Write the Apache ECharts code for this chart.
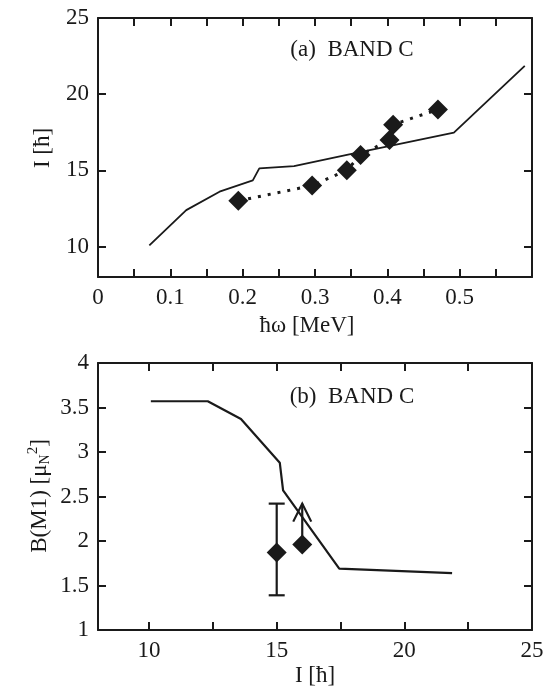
<!DOCTYPE html>
<html><head><meta charset="utf-8">
<script src="https://cdn.jsdelivr.net/npm/echarts@6/dist/echarts.min.js"></script>
<style>html,body{margin:0;padding:0;background:#fff}#c{width:559px;height:690px}</style>
</head><body><div id="c"></div>
<script>
// ---- Panel (a): I vs hbar-omega ----
const omegaTheory = [0.071, 0.122, 0.168, 0.214, 0.223, 0.271, 0.349, 0.492, 0.590];
const spinTheory  = [10.07, 12.39, 13.6, 14.34, 15.13, 15.28, 16.07, 17.48, 21.86];
const omegaExp    = [0.194, 0.296, 0.344, 0.363, 0.403, 0.408, 0.470];
const spinExp     = [13, 14, 15, 16, 17, 18, 19];
const omegaTickValues  = [0.05, 0.1, 0.15, 0.2, 0.25, 0.3, 0.35, 0.4, 0.45, 0.5, 0.55];
const omegaLabelValues = [0, 0.1, 0.2, 0.3, 0.4, 0.5];
const spinTickValuesA  = [10, 15, 20];
const spinLabelValuesA = [10, 15, 20, 25];

// ---- Panel (b): B(M1) vs I ----
const spinTheoryB = [10.07, 12.3, 13.6, 15.12, 15.25, 17.45, 21.87];
const bm1Theory   = [3.57, 3.57, 3.37, 2.88, 2.57, 1.69, 1.64];
const spinExpB    = [15, 16];
const bm1Exp      = [1.87, 1.96];
const errSpin     = [15];
const errLow      = [1.39];
const errHigh     = [2.42];
const limitSpin   = [16];
const limitFrom   = [1.96];
const limitTo     = [2.42];
const spinTickValuesB  = [10, 12.5, 15, 17.5, 20, 22.5];
const spinLabelValuesB = [10, 15, 20, 25];
const bm1Ticks    = [1.5, 2, 2.5, 3, 3.5];
const bm1Labels   = [1, 1.5, 2, 2.5, 3, 3.5, 4];

const FONT = '"Liberation Serif", "Times New Roman", serif';
const BLK = '#1a1a1a';

function zip(a, b) { return a.map((v, i) => [v, b[i]]); }
const fmt = v => String(parseFloat((+v).toFixed(2)));

function axis(opts) {
  return {
    type: 'value', gridIndex: opts.grid, position: opts.position,
    min: opts.min, max: opts.max,
    axisLine: { show: true, onZero: false, lineStyle: { color: BLK, width: 2 } },
    axisTick: { show: true, inside: true, length: 8, lineStyle: { color: BLK, width: 2 }, customValues: opts.ticks },
    axisLabel: opts.labels ? {
      show: true, customValues: opts.labels, formatter: fmt, margin: 9,
      color: BLK, fontFamily: FONT, fontSize: 23, showMinLabel: true, showMaxLabel: true
    } : { show: false },
    splitLine: { show: false }
  };
}

const chart = echarts.init(document.getElementById('c'), null, { renderer: 'canvas' });

chart.setOption({
  animation: false,
  backgroundColor: '#fff',
  grid: [
    { left: 98, right: 27, top: 18, height: 259 },
    { left: 98, right: 27, top: 363, height: 267 }
  ],
  xAxis: [
    axis({ grid: 0, position: 'bottom', min: 0, max: 0.6, ticks: omegaTickValues, labels: omegaLabelValues }),
    axis({ grid: 0, position: 'top', min: 0, max: 0.6, ticks: omegaTickValues }),
    axis({ grid: 1, position: 'bottom', min: 8, max: 25, ticks: spinTickValuesB, labels: spinLabelValuesB }),
    axis({ grid: 1, position: 'top', min: 8, max: 25, ticks: spinTickValuesB })
  ],
  yAxis: [
    axis({ grid: 0, position: 'left', min: 8, max: 25, ticks: spinTickValuesA, labels: spinLabelValuesA }),
    axis({ grid: 0, position: 'right', min: 8, max: 25, ticks: spinTickValuesA }),
    axis({ grid: 1, position: 'left', min: 1, max: 4, ticks: bm1Ticks, labels: bm1Labels }),
    axis({ grid: 1, position: 'right', min: 1, max: 4, ticks: bm1Ticks })
  ],
  series: [
    {
      type: 'line', xAxisIndex: 0, yAxisIndex: 0, data: zip(omegaTheory, spinTheory),
      showSymbol: false, lineStyle: { color: BLK, width: 1.8 }, z: 2
    },
    {
      type: 'line', xAxisIndex: 0, yAxisIndex: 0, data: zip(omegaExp, spinExp),
      symbol: 'diamond', symbolSize: 20, itemStyle: { color: BLK, opacity: 1 },
      lineStyle: { color: BLK, width: 3, type: [3, 7], cap: 'butt' }, z: 3
    },
    {
      type: 'line', xAxisIndex: 2, yAxisIndex: 2, data: zip(spinTheoryB, bm1Theory),
      showSymbol: false, lineStyle: { color: BLK, width: 2.2 }, z: 2
    },
    {
      type: 'custom', xAxisIndex: 2, yAxisIndex: 2,
      data: errSpin.map((s, i) => [s, errLow[i], errHigh[i]]),
      renderItem: function (params, api) {
        const lo = api.coord([api.value(0), api.value(1)]);
        const hi = api.coord([api.value(0), api.value(2)]);
        const st = { stroke: BLK, lineWidth: 2.2 };
        return { type: 'group', children: [
          { type: 'line', shape: { x1: lo[0], y1: lo[1], x2: hi[0], y2: hi[1] }, style: st },
          { type: 'line', shape: { x1: lo[0] - 8, y1: lo[1], x2: lo[0] + 8, y2: lo[1] }, style: st },
          { type: 'line', shape: { x1: hi[0] - 8, y1: hi[1], x2: hi[0] + 8, y2: hi[1] }, style: st }
        ]};
      }, z: 3
    },
    {
      type: 'custom', xAxisIndex: 2, yAxisIndex: 2,
      data: limitSpin.map((s, i) => [s, limitFrom[i], limitTo[i]]),
      renderItem: function (params, api) {
        const a = api.coord([api.value(0), api.value(1)]);
        const b = api.coord([api.value(0), api.value(2)]);
        const st = { stroke: BLK, lineWidth: 2.2, fill: null };
        return { type: 'group', children: [
          { type: 'line', shape: { x1: a[0], y1: a[1], x2: b[0], y2: b[1] }, style: st },
          { type: 'polyline', shape: { points: [[b[0] - 9, b[1] + 18], [b[0], b[1]], [b[0] + 9, b[1] + 18]] }, style: st }
        ]};
      }, z: 3
    },
    {
      type: 'scatter', xAxisIndex: 2, yAxisIndex: 2, data: zip(spinExpB, bm1Exp),
      symbol: 'diamond', symbolSize: 20, itemStyle: { color: BLK, opacity: 1 }, z: 4
    }
  ],
  graphic: [
    { type: 'text', x: 352, y: 50, style: { text: '(a)  BAND C', font: '23px ' + FONT, fill: BLK, align: 'center', verticalAlign: 'middle' } },
    { type: 'text', x: 352, y: 397, style: { text: '(b)  BAND C', font: '23px ' + FONT, fill: BLK, align: 'center', verticalAlign: 'middle' } },
    { type: 'text', x: 307, y: 326, style: { text: 'ħω [MeV]', font: '23px ' + FONT, fill: BLK, align: 'center', verticalAlign: 'middle' } },
    { type: 'text', x: 315, y: 676, style: { text: 'I [ħ]', font: '23px ' + FONT, fill: BLK, align: 'center', verticalAlign: 'middle' } },
    { type: 'text', x: 43, y: 148, rotation: Math.PI / 2, style: { text: 'I [ħ]', font: '23px ' + FONT, fill: BLK, align: 'center', verticalAlign: 'middle' } },
    { type: 'text', x: 40, y: 496, rotation: Math.PI / 2, style: {
        text: 'B(M1) [μ{sub|N}{sup|2}]', font: '23px ' + FONT, fill: BLK, align: 'center', verticalAlign: 'middle',
        rich: {
          sub: { fontSize: 14, fontFamily: FONT, fill: BLK, padding: [10, 0, 0, 0] },
          sup: { fontSize: 15, fontFamily: FONT, fill: BLK, padding: [0, 0, 14, 0] }
        }
    } }
  ]
});
</script>
</body></html>
